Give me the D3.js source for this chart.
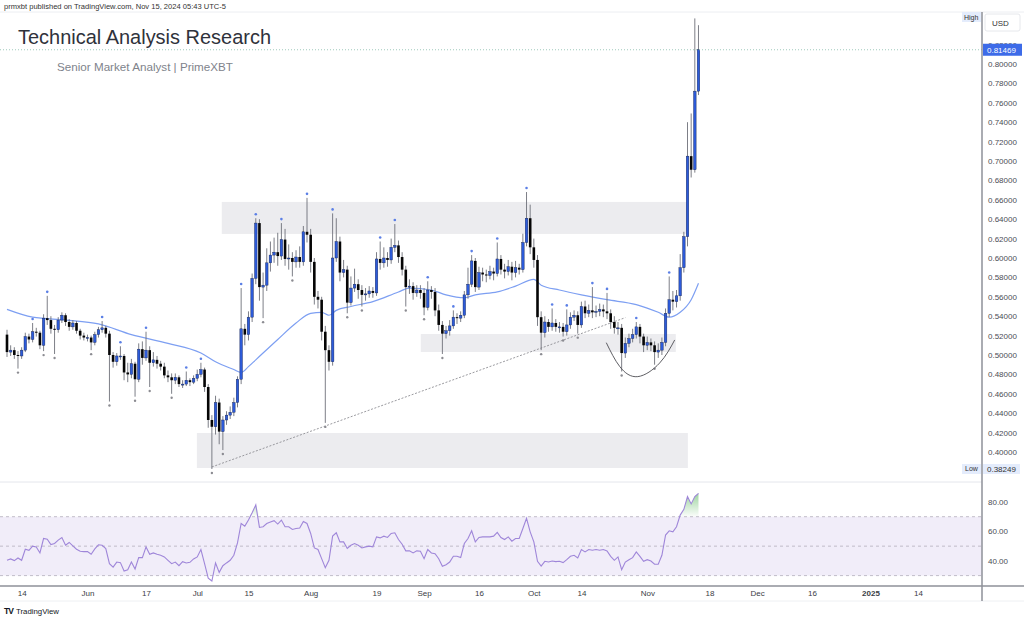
<!DOCTYPE html>
<html>
<head>
<meta charset="utf-8">
<script src="https://cdn.jsdelivr.net/npm/d3@7"></script>
<style>
  body { margin: 0; background: #fff; }
  svg { display: block; font-family: "Liberation Sans", Arial, sans-serif; }
</style>
</head>
<body>
<svg id="chart" width="1024" height="621"></svg>
<script>
// daily candles, first bar is May 10 2024; each open is the prior close
var firstDay = Date.UTC(2024, 4, 10);
var firstOpen = 0.521;

var closes = [
  0.503, 0.505, 0.500, 0.499, 0.505, 0.519, 0.516, 0.524, 0.523, 0.510,
  0.538, 0.536, 0.527, 0.526, 0.536, 0.541, 0.534, 0.529, 0.533, 0.525,
  0.520, 0.518, 0.518, 0.513, 0.521, 0.526, 0.528, 0.522, 0.500, 0.493,
  0.499, 0.499, 0.482, 0.480, 0.491, 0.475, 0.506, 0.497, 0.505, 0.492,
  0.495, 0.491, 0.488, 0.479, 0.477, 0.474, 0.477, 0.470, 0.470, 0.474,
  0.472, 0.476, 0.480, 0.485, 0.467, 0.433, 0.426, 0.451, 0.421, 0.433,
  0.438, 0.441, 0.451, 0.475, 0.527, 0.521, 0.539, 0.579, 0.636, 0.570,
  0.572, 0.595, 0.603, 0.606, 0.602, 0.619, 0.599, 0.600, 0.596, 0.601,
  0.596, 0.627, 0.624, 0.596, 0.560, 0.557, 0.524, 0.505, 0.493, 0.600,
  0.617, 0.585, 0.588, 0.554, 0.569, 0.573, 0.567, 0.562, 0.563, 0.566,
  0.564, 0.599, 0.595, 0.600, 0.598, 0.611, 0.613, 0.601, 0.588, 0.570,
  0.571, 0.564, 0.567, 0.564, 0.549, 0.567, 0.565, 0.546, 0.531, 0.522,
  0.525, 0.530, 0.539, 0.538, 0.541, 0.562, 0.573, 0.597, 0.570, 0.585,
  0.583, 0.582, 0.586, 0.584, 0.599, 0.588, 0.586, 0.591, 0.585, 0.590,
  0.588, 0.616, 0.641, 0.611, 0.598, 0.539, 0.523, 0.534, 0.529, 0.533,
  0.529, 0.529, 0.524, 0.531, 0.539, 0.541, 0.531, 0.550, 0.543, 0.546,
  0.544, 0.545, 0.547, 0.545, 0.543, 0.534, 0.528, 0.528, 0.502, 0.512,
  0.517, 0.521, 0.529, 0.519, 0.510, 0.513, 0.510, 0.503, 0.505, 0.513,
  0.543, 0.557, 0.555, 0.561, 0.590, 0.622, 0.705, 0.691, 0.772, 0.81469
];

var highs = [
  0.526, 0.510, 0.508, 0.504, 0.508, 0.523, 0.522, 0.533, 0.528, 0.525,
  0.542, 0.561, 0.540, 0.531, 0.539, 0.544, 0.543, 0.537, 0.536, 0.535,
  0.527, 0.523, 0.521, 0.520, 0.524, 0.529, 0.535, 0.530, 0.525, 0.503,
  0.502, 0.509, 0.501, 0.492, 0.496, 0.493, 0.512, 0.514, 0.524, 0.509,
  0.503, 0.499, 0.494, 0.492, 0.484, 0.481, 0.481, 0.479, 0.474, 0.483,
  0.476, 0.479, 0.485, 0.492, 0.487, 0.470, 0.438, 0.458, 0.455, 0.437,
  0.442, 0.447, 0.456, 0.478, 0.569, 0.532, 0.545, 0.584, 0.641, 0.640,
  0.585, 0.610, 0.617, 0.621, 0.626, 0.636, 0.630, 0.614, 0.606, 0.608,
  0.612, 0.633, 0.662, 0.630, 0.600, 0.566, 0.560, 0.530, 0.510, 0.646,
  0.641, 0.622, 0.598, 0.592, 0.581, 0.589, 0.578, 0.572, 0.569, 0.571,
  0.570, 0.606, 0.617, 0.611, 0.606, 0.620, 0.635, 0.618, 0.606, 0.592,
  0.578, 0.575, 0.572, 0.572, 0.569, 0.576, 0.571, 0.569, 0.552, 0.535,
  0.530, 0.536, 0.546, 0.543, 0.545, 0.566, 0.590, 0.603, 0.600, 0.591,
  0.590, 0.588, 0.592, 0.590, 0.616, 0.603, 0.594, 0.598, 0.596, 0.597,
  0.594, 0.625, 0.668, 0.655, 0.620, 0.603, 0.545, 0.540, 0.537, 0.548,
  0.537, 0.534, 0.533, 0.547, 0.544, 0.546, 0.545, 0.555, 0.556, 0.552,
  0.570, 0.551, 0.553, 0.552, 0.564, 0.547, 0.540, 0.534, 0.532, 0.518,
  0.522, 0.527, 0.534, 0.532, 0.522, 0.519, 0.517, 0.514, 0.512, 0.518,
  0.548, 0.581, 0.566, 0.567, 0.604, 0.627, 0.740, 0.749, 0.847, 0.840
];

var lows = [
  0.498, 0.499, 0.496, 0.486, 0.496, 0.503, 0.512, 0.513, 0.519, 0.506,
  0.504, 0.531, 0.522, 0.501, 0.523, 0.533, 0.530, 0.525, 0.526, 0.522,
  0.516, 0.515, 0.514, 0.505, 0.510, 0.518, 0.523, 0.518, 0.452, 0.487,
  0.489, 0.495, 0.474, 0.472, 0.476, 0.457, 0.472, 0.490, 0.494, 0.467,
  0.488, 0.486, 0.484, 0.476, 0.472, 0.460, 0.470, 0.467, 0.466, 0.468,
  0.468, 0.470, 0.473, 0.477, 0.462, 0.425, 0.38249, 0.418, 0.408, 0.402,
  0.428, 0.434, 0.437, 0.446, 0.470, 0.510, 0.515, 0.534, 0.573, 0.556,
  0.538, 0.566, 0.586, 0.595, 0.592, 0.598, 0.592, 0.588, 0.581, 0.590,
  0.590, 0.592, 0.616, 0.585, 0.552, 0.548, 0.515, 0.430, 0.484, 0.489,
  0.596, 0.576, 0.580, 0.543, 0.551, 0.565, 0.558, 0.550, 0.556, 0.559,
  0.559, 0.561, 0.588, 0.590, 0.591, 0.594, 0.606, 0.595, 0.582, 0.550,
  0.563, 0.557, 0.560, 0.558, 0.541, 0.546, 0.558, 0.540, 0.525, 0.501,
  0.517, 0.520, 0.527, 0.532, 0.534, 0.538, 0.558, 0.570, 0.565, 0.567,
  0.576, 0.575, 0.578, 0.577, 0.581, 0.583, 0.579, 0.582, 0.577, 0.580,
  0.583, 0.585, 0.612, 0.604, 0.590, 0.530, 0.505, 0.518, 0.524, 0.525,
  0.524, 0.523, 0.519, 0.520, 0.527, 0.535, 0.522, 0.528, 0.538, 0.539,
  0.538, 0.539, 0.540, 0.539, 0.537, 0.527, 0.522, 0.521, 0.483, 0.497,
  0.508, 0.513, 0.517, 0.512, 0.503, 0.505, 0.504, 0.490, 0.497, 0.500,
  0.509, 0.539, 0.546, 0.549, 0.556, 0.585, 0.612, 0.683, 0.688, 0.768
];

var rsi = [
  40.4, 41.3, 40.2, 42.0, 40.4, 47.9, 47.2, 50.0, 49.5, 45.4,
  55.2, 54.7, 51.1, 51.8, 54.1, 55.9, 50.6, 52.5, 50.2, 47.9,
  46.5, 46.3, 46.3, 44.5, 48.1, 50.9, 50.6, 48.4, 38.1, 35.8,
  39.2, 38.8, 33.1, 34.0, 39.2, 34.5, 42.2, 42.2, 49.5, 44.5,
  45.4, 44.5, 43.8, 42.7, 40.4, 38.1, 39.2, 36.7, 39.5, 38.6,
  39.0, 41.3, 42.7, 47.7, 38.1, 28.3, 26.3, 38.6, 32.2, 36.7,
  38.6, 40.4, 43.8, 52.2, 65.4, 63.6, 67.7, 72.7, 78.0, 62.7,
  63.2, 65.4, 66.4, 67.3, 65.0, 67.7, 63.2, 63.2, 61.3, 62.0,
  62.3, 66.8, 65.4, 58.6, 48.8, 47.7, 41.5, 35.4, 40.4, 56.8,
  59.1, 52.9, 52.9, 48.4, 50.6, 51.8, 50.6, 48.8, 49.5, 50.0,
  49.5, 56.3, 55.6, 56.8, 55.9, 58.6, 59.1, 54.5, 51.3, 46.8,
  46.8, 45.4, 46.8, 46.5, 41.5, 47.7, 45.4, 44.9, 41.5, 36.3,
  37.4, 39.2, 43.1, 43.1, 42.2, 51.8, 55.2, 60.4, 52.9, 55.9,
  56.3, 56.3, 56.3, 56.8, 59.3, 55.9, 54.5, 56.3, 53.4, 55.2,
  55.2, 62.0, 68.9, 59.7, 52.9, 39.7, 36.5, 39.7, 39.2, 39.9,
  39.5, 39.7, 38.8, 40.8, 43.1, 43.8, 42.0, 47.7, 46.1, 47.7,
  47.2, 47.7, 47.2, 47.7, 46.8, 43.1, 40.4, 42.7, 34.0, 39.2,
  40.8, 42.2, 46.1, 43.1, 39.7, 40.8, 39.9, 37.7, 37.7, 43.8,
  57.5, 60.4, 59.7, 63.2, 71.1, 75.0, 83.7, 78.7, 83.7, 85.9
];

// moving average read at these bar numbers
var maBars = [0, 7, 16, 25, 34, 44, 53, 57, 62, 64, 66, 68, 74, 79, 83, 86, 88, 90, 94, 100,
              107, 110, 116, 120, 125, 128, 134, 139, 144, 146, 151, 157, 164, 172, 178, 181, 184, 187, 189];
var maVals = [0.547, 0.539, 0.536, 0.532, 0.521, 0.512, 0.502, 0.493, 0.485, 0.482, 0.488, 0.495, 0.516, 0.533,
              0.543, 0.544, 0.541, 0.546, 0.550, 0.555, 0.565, 0.569, 0.567, 0.562, 0.559, 0.562, 0.565, 0.571,
              0.578, 0.572, 0.567, 0.562, 0.557, 0.552, 0.544, 0.539, 0.544, 0.557, 0.574];

var pivotHighBars = [7, 11, 26, 31, 38, 49, 53, 64, 68, 75, 82, 89, 102, 106, 115, 122, 127, 134, 142, 149, 153, 160, 164, 172, 181];
var pivotLowBars = [3, 10, 13, 23, 28, 35, 39, 45, 56, 59, 70, 78, 87, 93, 97, 109, 114, 119, 146, 152, 156, 168, 177];

// grey zones: bar span and price span
var zoneStart = [58.7, 113.1, 51.9];
var zoneEnd = [185.8, 182.8, 186.1];
var zoneTop = [0.6578, 0.5216, 0.4196];
var zoneBottom = [0.6248, 0.5031, 0.3835];

var trendBars = [56, 169];
var trendPrices = [0.3846, 0.5385];

var cupBars = [163.8, 167.5, 172.4, 178.4, 182.5];
var cupPrices = [0.5127, 0.4880, 0.4777, 0.4918, 0.5155];

var priceTicks = [0.40, 0.42, 0.44, 0.46, 0.48, 0.50, 0.52, 0.54, 0.56, 0.58, 0.60,
                  0.62, 0.64, 0.66, 0.68, 0.70, 0.72, 0.74, 0.76, 0.78, 0.80, 0.82];
var rsiTicks = [40, 60, 80];
var rsiLevels = [70, 50, 30];
var timeTickDates = ["2024-05-14", "2024-06-01", "2024-06-17", "2024-07-01", "2024-07-15", "2024-08-01",
                     "2024-08-19", "2024-09-01", "2024-09-16", "2024-10-01", "2024-10-14", "2024-11-01",
                     "2024-11-18", "2024-12-01", "2024-12-16", "2025-01-01", "2025-01-14"];
var timeTickLabels = ["14", "Jun", "17", "Jul", "15", "Aug", "19", "Sep", "16", "Oct", "14", "Nov",
                      "18", "Dec", "16", "2025", "14"];

(function(d3) {
  'use strict';

  var W = 1024, H = 621;
  var axisX = 982;
  var paneTop = 12, paneBottom = 481;
  var rsiTop = 483, rsiBottom = 585;

  function barDate(i) { return new Date(firstDay + i * 864e5); }
  var parseDay = d3.utcParse('%Y-%m-%d');

  var x = d3.scaleUtc()
    .domain([barDate(0), parseDay('2025-01-14')])
    .range([7, 918]);
  var y = d3.scaleLinear().domain([0.40, 0.80]).range([452, 64]);
  var yr = d3.scaleLinear().domain([30, 70]).range([575.6, 516.7]);

  var candles = closes.map(function(c, i) {
    return { i: i, o: i === 0 ? firstOpen : closes[i - 1], c: c, h: highs[i], l: lows[i] };
  });

  var svg = d3.select('#chart');
  svg.append('rect').attr('width', W).attr('height', H).attr('fill', '#fff');

  var defs = svg.append('defs');
  defs.append('clipPath').attr('id', 'price-clip')
    .append('rect').attr('x', 0).attr('y', paneTop).attr('width', axisX).attr('height', paneBottom - paneTop);
  defs.append('clipPath').attr('id', 'rsi-clip')
    .append('rect').attr('x', 0).attr('y', rsiTop).attr('width', axisX).attr('height', rsiBottom - rsiTop);
  var grad = defs.append('linearGradient').attr('id', 'ob-grad')
    .attr('x1', 0).attr('x2', 0).attr('y1', 0).attr('y2', 1);
  grad.append('stop').attr('offset', '0%').attr('stop-color', '#4caf50').attr('stop-opacity', 0.55);
  grad.append('stop').attr('offset', '100%').attr('stop-color', '#4caf50').attr('stop-opacity', 0.02);

  // header texts
  svg.append('text').attr('x', 4).attr('y', 9).attr('font-size', 8).attr('fill', '#333')
    .attr('textLength', 222).attr('lengthAdjust', 'spacingAndGlyphs')
    .text('prmxbt published on TradingView.com, Nov 15, 2024 05:43 UTC-5');

  svg.append('line').attr('x1', 0).attr('x2', W).attr('y1', paneTop).attr('y2', paneTop)
    .attr('stroke', '#eceef2').attr('stroke-width', 1);

  // ---- price pane ----
  var pane = svg.append('g').attr('clip-path', 'url(#price-clip)');

  pane.selectAll('rect.zone')
    .data(zoneStart)
    .enter().append('rect').attr('class', 'zone')
    .attr('x', function(d) { return x(barDate(d)); })
    .attr('width', function(d, k) { return x(barDate(zoneEnd[k])) - x(barDate(d)); })
    .attr('y', function(d, k) { return y(zoneTop[k]); })
    .attr('height', function(d, k) { return y(zoneBottom[k]) - y(zoneTop[k]); })
    .attr('fill', '#ececef');

  pane.append('line')
    .attr('x1', x(barDate(trendBars[0]))).attr('y1', y(trendPrices[0]))
    .attr('x2', x(barDate(trendBars[1]))).attr('y2', y(trendPrices[1]))
    .attr('stroke', '#8f8f94').attr('stroke-width', 0.9).attr('stroke-dasharray', '2,1.6');

  var maLine = d3.line()
    .x(function(d, k) { return x(barDate(d)); })
    .y(function(d, k) { return y(maVals[k]); })
    .curve(d3.curveMonotoneX);
  pane.append('path').attr('d', maLine(maBars))
    .attr('fill', 'none').attr('stroke', '#7d9ff2').attr('stroke-width', 1.2);

  var bodyW = 2.6;
  var cg = pane.append('g');
  cg.selectAll('line.wick').data(candles).enter().append('line')
    .attr('x1', function(d) { return x(barDate(d.i)); })
    .attr('x2', function(d) { return x(barDate(d.i)); })
    .attr('y1', function(d) { return y(d.h); })
    .attr('y2', function(d) { return y(d.l); })
    .attr('stroke', '#6e7079').attr('stroke-width', 0.9);
  cg.selectAll('rect.body').data(candles).enter().append('rect')
    .attr('x', function(d) { return x(barDate(d.i)) - bodyW / 2; })
    .attr('width', bodyW)
    .attr('y', function(d) { return y(Math.max(d.o, d.c)); })
    .attr('height', function(d) { return Math.max(1, Math.abs(y(d.o) - y(d.c))); })
    .attr('fill', function(d) { return d.c >= d.o ? '#2d5bd9' : '#050505'; })
    .attr('stroke', function(d) { return d.c >= d.o ? '#14224d' : 'none'; })
    .attr('stroke-width', 0.4);

  pane.selectAll('circle.ph').data(pivotHighBars).enter().append('circle')
    .attr('cx', function(d) { return x(barDate(d)); })
    .attr('cy', function(d) { return y(highs[d]) - 4; })
    .attr('r', 1.3).attr('fill', '#5b7fe6');
  pane.selectAll('circle.pl').data(pivotLowBars).enter().append('circle')
    .attr('cx', function(d) { return x(barDate(d)); })
    .attr('cy', function(d) { return y(lows[d]) + 4; })
    .attr('r', 1.2).attr('fill', '#8c8c92');

  var cupLine = d3.line()
    .x(function(d) { return x(barDate(d)); })
    .y(function(d, k) { return y(cupPrices[k]); })
    .curve(d3.curveNatural);
  pane.append('path').attr('d', cupLine(cupBars))
    .attr('fill', 'none').attr('stroke', '#4d4d52').attr('stroke-width', 0.9);

  var lastPrice = closes[closes.length - 1];
  svg.append('line').attr('x1', 0).attr('x2', axisX).attr('y1', y(lastPrice)).attr('y2', y(lastPrice))
    .attr('stroke', '#9fcabd').attr('stroke-width', 1).attr('stroke-dasharray', '1,2');

  // titles sit over the chart
  svg.append('text').attr('x', 18).attr('y', 44).attr('font-size', 20.5).attr('fill', '#2f323b')
    .attr('textLength', 253).attr('lengthAdjust', 'spacingAndGlyphs')
    .text('Technical Analysis Research');
  svg.append('text').attr('x', 57).attr('y', 71).attr('font-size', 11).attr('fill', '#80838c')
    .attr('textLength', 176).attr('lengthAdjust', 'spacingAndGlyphs')
    .text('Senior Market Analyst | PrimeXBT');

  svg.append('line').attr('x1', 0).attr('x2', axisX).attr('y1', 482).attr('y2', 482)
    .attr('stroke', '#e4e6ec').attr('stroke-width', 1);

  // ---- RSI pane ----
  var rp = svg.append('g').attr('clip-path', 'url(#rsi-clip)');
  rp.append('rect').attr('x', 0).attr('width', axisX)
    .attr('y', yr(70)).attr('height', yr(30) - yr(70)).attr('fill', '#f1edf9');
  rp.selectAll('line.lvl').data(rsiLevels).enter().append('line')
    .attr('x1', 0).attr('x2', axisX)
    .attr('y1', function(d) { return yr(d); }).attr('y2', function(d) { return yr(d); })
    .attr('stroke', '#b3aebb').attr('stroke-width', 0.8).attr('stroke-dasharray', '3,3');

  var obArea = d3.area()
    .x(function(d, k) { return x(barDate(k)); })
    .y0(yr(70))
    .y1(function(d) { return yr(Math.max(d, 70)); });
  rp.append('path').attr('d', obArea(rsi)).attr('fill', 'url(#ob-grad)');

  var rsiLine = d3.line()
    .x(function(d, k) { return x(barDate(k)); })
    .y(function(d) { return yr(d); });
  rp.append('path').attr('d', rsiLine(rsi))
    .attr('fill', 'none').attr('stroke', '#9f86d9').attr('stroke-width', 1.1);

  // ---- axes ----
  svg.append('line').attr('x1', 0).attr('x2', W).attr('y1', rsiBottom + 1).attr('y2', rsiBottom + 1)
    .attr('stroke', '#8e9099').attr('stroke-width', 1.4);
  svg.append('line').attr('x1', 0).attr('x2', W).attr('y1', 601).attr('y2', 601)
    .attr('stroke', '#eef0f3').attr('stroke-width', 1);
  svg.append('line').attr('x1', axisX).attr('x2', axisX).attr('y1', paneTop).attr('y2', 601)
    .attr('stroke', '#8e9099').attr('stroke-width', 1.5);

  var pAxis = svg.append('g').attr('transform', 'translate(' + (axisX + 2) + ',0)')
    .call(d3.axisRight(y).tickValues(priceTicks).tickSize(0).tickPadding(4).tickFormat(d3.format('.5f')));
  pAxis.select('.domain').remove();
  pAxis.selectAll('text').attr('font-size', 8).attr('fill', '#4a4d55')
    .attr('font-family', '"Liberation Sans", Arial, sans-serif');

  var rAxis = svg.append('g').attr('transform', 'translate(' + (axisX + 2) + ',0)')
    .call(d3.axisRight(yr).tickValues(rsiTicks).tickSize(0).tickPadding(4).tickFormat(d3.format('.2f')));
  rAxis.select('.domain').remove();
  rAxis.selectAll('text').attr('font-size', 8).attr('fill', '#4a4d55')
    .attr('font-family', '"Liberation Sans", Arial, sans-serif');

  var tAxis = svg.append('g').attr('transform', 'translate(0,' + (rsiBottom + 2) + ')')
    .call(d3.axisBottom(x).tickValues(timeTickDates.map(parseDay)).tickSize(0).tickPadding(3)
      .tickFormat(function(d, k) { return timeTickLabels[k]; }));
  tAxis.select('.domain').remove();
  tAxis.selectAll('text').attr('font-size', 8).attr('fill', '#3a3d45')
    .attr('font-family', '"Liberation Sans", Arial, sans-serif')
    .attr('font-weight', function(d, k) { return timeTickLabels[k] === '2025' ? 'bold' : 'normal'; });

  // USD box
  svg.append('rect').attr('x', 985).attr('y', 14).attr('width', 35).attr('height', 17).attr('rx', 2)
    .attr('fill', '#fff').attr('stroke', '#e6e8ec');
  svg.append('text').attr('x', 992).attr('y', 25.5).attr('font-size', 8).attr('fill', '#333').text('USD');

  // last price tag
  var ly = y(lastPrice);
  svg.append('rect').attr('x', 983).attr('y', ly - 6).attr('width', 39).attr('height', 12)
    .attr('fill', '#3d6be8');
  svg.append('text').attr('x', 987).attr('y', ly + 3).attr('font-size', 8).attr('fill', '#fff')
    .text(d3.format('.5f')(lastPrice));

  // high / low tags
  svg.append('rect').attr('x', 962).attr('y', 12).attr('width', 19).attr('height', 10).attr('fill', '#e4ecfc');
  svg.append('text').attr('x', 964).attr('y', 19.5).attr('font-size', 7).attr('fill', '#333').text('High');

  var lowPrice = d3.min(lows);
  var lowY = y(lowPrice);
  svg.append('rect').attr('x', 962).attr('y', lowY - 5).attr('width', 19).attr('height', 10).attr('fill', '#e4ecfc');
  svg.append('text').attr('x', 965).attr('y', lowY + 2.5).attr('font-size', 7).attr('fill', '#333').text('Low');
  svg.append('rect').attr('x', 983).attr('y', lowY - 5).attr('width', 37).attr('height', 10).attr('fill', '#e4ecfc');
  svg.append('text').attr('x', 987).attr('y', lowY + 3).attr('font-size', 8).attr('fill', '#333')
    .text(d3.format('.5f')(lowPrice));

  // footer logo
  svg.append('text').attr('x', 4).attr('y', 614).attr('font-size', 8.5).attr('font-weight', 'bold')
    .attr('fill', '#131722').attr('letter-spacing', -1).text('TV');
  svg.append('text').attr('x', 16).attr('y', 614).attr('font-size', 8).attr('fill', '#131722')
    .attr('textLength', 43).attr('lengthAdjust', 'spacingAndGlyphs').text('TradingView');

})(window.d3);
</script>
</body>
</html>
